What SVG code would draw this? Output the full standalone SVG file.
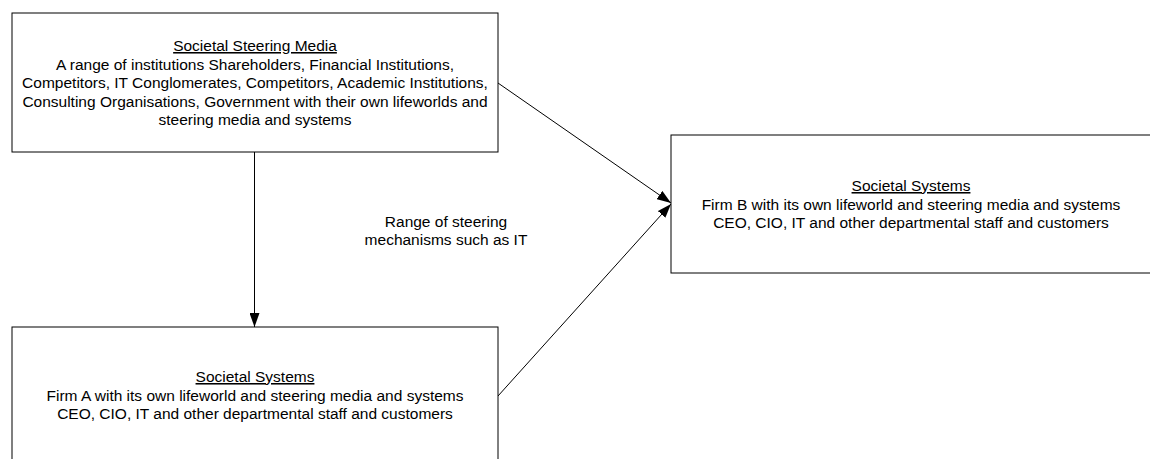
<svg xmlns="http://www.w3.org/2000/svg" width="1150" height="459" viewBox="0 0 1150 459">
  <style>
    .box { fill: #ffffff; stroke: #000000; stroke-width: 1; }
    .edge { fill: none; stroke: #000000; stroke-width: 1; }
    text { font-family: "Liberation Sans", Arial, sans-serif; font-size: 15.5px; fill: #000000; text-anchor: middle; }
    .title { text-decoration: underline; }
  </style>
  <defs>
    <marker id="arrow" markerUnits="userSpaceOnUse" markerWidth="15" markerHeight="10" refX="14" refY="5" orient="auto">
      <path d="M0,0 L14,5 L0,10 Z" fill="#000000"/>
    </marker>
  </defs>
  <rect width="1150" height="459" fill="#ffffff"/>

  <!-- connectors -->
  <g id="connectors">
    <line class="edge" x1="254.5" y1="152" x2="254.5" y2="327" marker-end="url(#arrow)"/>
    <line class="edge" x1="498" y1="83" x2="671" y2="203" marker-end="url(#arrow)"/>
    <line class="edge" x1="498" y1="396" x2="671" y2="204" marker-end="url(#arrow)"/>
    <text x="446" y="227">Range of steering</text>
    <text x="446" y="245">mechanisms such as IT</text>
  </g>

  <!-- societal steering media -->
  <g id="steering-media">
    <rect class="box" x="12" y="13" width="486" height="139"/>
    <text class="title" x="255" y="51">Societal Steering Media</text>
    <text x="255" y="69.5">A range of institutions Shareholders, Financial Institutions,</text>
    <text x="255" y="88">Competitors, IT Conglomerates, Competitors, Academic Institutions,</text>
    <text x="255" y="106.5">Consulting Organisations, Government with their own lifeworlds and</text>
    <text x="255" y="125">steering media and systems</text>
  </g>

  <!-- firm A -->
  <g id="firm-a">
    <rect class="box" x="12" y="327" width="486" height="142"/>
    <text class="title" x="255" y="382">Societal Systems</text>
    <text x="255" y="400.5">Firm A with its own lifeworld and steering media and systems</text>
    <text x="255" y="419">CEO, CIO, IT and other departmental staff and customers</text>
  </g>

  <!-- firm B -->
  <g id="firm-b">
    <rect class="box" x="671" y="135" width="480" height="138"/>
    <text class="title" x="911" y="191">Societal Systems</text>
    <text x="911" y="209.5">Firm B with its own lifeworld and steering media and systems</text>
    <text x="911" y="228">CEO, CIO, IT and other departmental staff and customers</text>
  </g>
</svg>
